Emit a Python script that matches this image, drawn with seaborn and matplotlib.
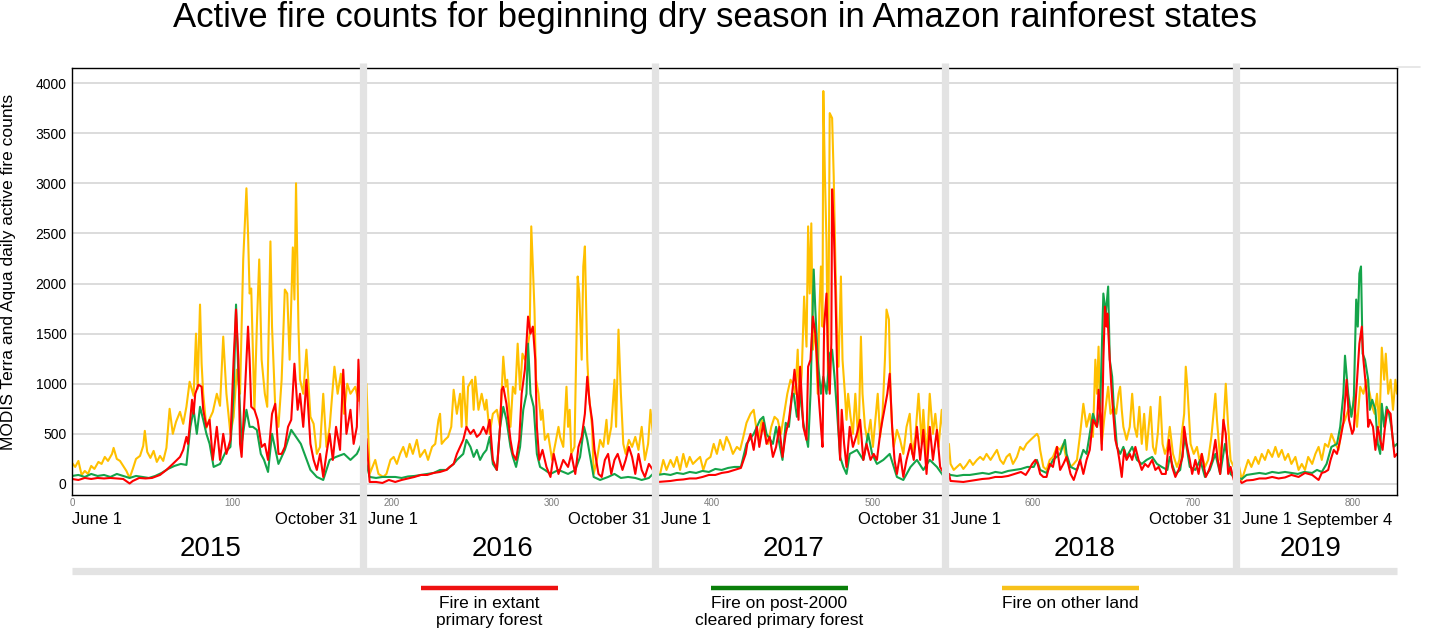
import pandas as pd
import seaborn as sns
import matplotlib.pyplot as plt
from matplotlib.lines import Line2D
from matplotlib.transforms import blended_transform_factory

sns.set_style("white")
plt.rcParams['font.family'] = ['Liberation Sans', 'DejaVu Sans']
plt.rcParams['text.color'] = 'black'
plt.rcParams['ytick.color'] = 'black'

# (day index, daily active fire count)
other_land = [
    # 2015
    (0, 210), (2, 170), (4, 230), (6, 90), (8, 130), (10, 100), (12, 180), (14, 150), (16.5, 220), (18.5, 200),
    (20.5, 270), (22.5, 230), (25, 300), (26, 360), (28, 250), (30, 230), (32, 180), (34, 130), (36, 60), (38, 150),
    (40, 250), (42.5, 280), (44.5, 380), (45.5, 530), (47, 320), (49, 260), (51, 330), (53, 220), (55, 280), (57, 230),
    (59, 360), (61, 750), (63, 500), (65, 620), (67.5, 720), (69.5, 600), (71.5, 770), (73.5, 1020), (76, 880),
    (77.5, 1500), (78.5, 950), (80, 1790), (81, 1200), (82, 900), (84, 560), (86, 650), (88, 720), (90.5, 900),
    (92.5, 780), (94.5, 1470), (96.5, 900), (99, 500), (101, 670), (103, 1140), (105, 900), (107, 2240), (109, 2950),
    (110, 2500), (111, 1900), (112, 1950), (114, 740), (115.5, 1570), (117, 2240), (118.5, 1240), (120.5, 900),
    (122, 770), (124, 2420), (125, 1570), (127, 770), (129, 570), (131, 1040), (133, 1940), (134.5, 1900), (136, 1240),
    (138, 2360), (139, 1840), (140, 3000), (141.5, 1570), (142.5, 1040), (144.5, 900), (146.5, 1340), (149, 670),
    (151, 600), (153, 300), (155, 370), (157, 900), (159, 370), (161, 570), (164, 1170), (166, 900), (168, 1100),
    (170, 700), (172, 1000), (174, 900), (177, 970), (179, 830), (181, 1040),
    # 2016
    (184, 1000), (186, 100), (189.5, 240), (191.5, 100), (194.5, 70), (196.5, 100), (199, 240), (201, 270), (203, 200),
    (205, 300), (207, 370), (209, 270), (211, 400), (213, 300), (215.5, 440), (217.5, 270), (220.5, 340), (222.5, 240),
    (225, 370), (227, 400), (229, 640), (230, 700), (231, 400), (233, 440), (235, 470), (237, 570), (238.5, 940),
    (240.5, 700), (242.5, 900), (243.5, 570), (244.5, 1070), (246.5, 570), (247.5, 970), (250, 1040), (251, 740),
    (252, 1070), (254, 740), (256, 900), (258, 740), (259, 840), (261, 500), (263, 700), (265.5, 740), (267.5, 570),
    (269.5, 1270), (271, 970), (272, 1040), (274, 570), (275.5, 970), (277, 900), (278.5, 1400), (280, 940),
    (281.5, 1300), (283, 1240), (284.5, 1340), (286, 1500), (287, 2570), (288, 2170), (289, 1740), (290, 1040),
    (291.5, 900), (293, 640), (294, 740), (295.5, 440), (297.5, 500), (300, 240), (302, 400), (304, 570), (305, 470),
    (307, 370), (309, 970), (310, 570), (311, 740), (312, 300), (314, 370), (316, 2070), (317, 1900), (318.5, 1240),
    (319.5, 2170), (320.5, 2370), (322, 1240), (323, 900), (325, 570), (326, 100), (328, 240), (330, 440), (332, 370),
    (334, 640), (335, 400), (337, 570), (339, 1040), (340, 570), (341.5, 1540), (343, 900), (344.5, 400), (346, 300),
    (348, 440), (350, 370), (352, 470), (354, 340), (356, 570), (358, 240), (360, 400), (361.5, 740), (363, 500),
    # 2017
    (366, 100), (367.5, 100), (369.5, 240), (371.5, 140), (374, 240), (376, 170), (378, 270), (380, 140), (382, 300),
    (384, 170), (386, 270), (388, 200), (390.5, 240), (392.5, 270), (394.5, 140), (396.5, 240), (399, 270), (401, 400),
    (403, 300), (405, 440), (407, 340), (409, 470), (411, 400), (413, 300), (415.5, 370), (417.5, 340), (419.5, 470),
    (421.5, 610), (424, 700), (426, 740), (427.5, 570), (429, 440), (431, 640), (433, 500), (435, 400), (437, 570),
    (439, 670), (441, 640), (443, 500), (445, 700), (447, 900), (449, 1040), (450.5, 1000), (452, 900), (453.5, 1340),
    (454.5, 770), (456, 1100), (457.5, 1870), (459, 1370), (460, 2570), (461, 1900), (462, 2600), (463, 1340),
    (464.5, 1570), (466, 900), (467, 1700), (468, 2170), (469, 1570), (469.5, 3920), (470.5, 3070), (471.5, 2400),
    (472.5, 940), (473.5, 3700), (475, 3650), (476, 3070), (477, 2240), (478, 1570), (479, 1170), (480.5, 2070),
    (481.5, 1240), (483, 900), (484, 640), (485, 900), (486.5, 670), (488, 500), (489.5, 900), (490.5, 640),
    (491.5, 400), (493, 1470), (494, 900), (495.5, 570), (497, 440), (499, 640), (500.5, 370), (502, 640),
    (503.5, 900), (505, 470), (506.5, 700), (508, 1240), (509, 1740), (510.5, 1640), (511.5, 900), (512.5, 570),
    (513.5, 370), (515.5, 540), (517.5, 440), (519.5, 300), (521.5, 570), (523.5, 700), (525, 300), (527, 470),
    (529, 900), (531, 400), (532, 740), (534, 240), (536, 900), (538, 500), (539.5, 700), (541.5, 370), (543.5, 740),
    (545, 400),
    # 2018
    (548, 400), (549, 200), (551, 140), (553, 170), (555, 200), (557, 150), (559, 190), (561, 240), (563, 190),
    (565.5, 240), (567.5, 270), (569.5, 240), (571.5, 300), (574, 240), (576, 290), (578, 340), (580, 240), (582, 200),
    (584, 270), (586, 300), (588, 200), (590.5, 270), (592.5, 370), (594.5, 340), (596.5, 400), (599, 440), (601, 470),
    (603, 500), (604, 470), (605, 340), (607, 170), (609, 140), (611, 240), (613, 270), (615.5, 370), (617.5, 340),
    (619.5, 400), (621.5, 240), (624, 170), (626, 200), (628, 240), (630, 500), (632, 800), (634, 570), (636, 700),
    (638, 470), (639.5, 1240), (640.5, 900), (641.5, 1370), (642.5, 740), (643.5, 400), (645, 640), (646, 770),
    (647.5, 970), (649, 700), (651, 770), (652.5, 700), (654, 900), (655, 970), (656, 740), (657, 570), (659, 440),
    (661, 570), (662.5, 900), (664, 570), (665.5, 470), (667, 770), (668.5, 400), (670, 700), (671.5, 340), (674, 770),
    (675.5, 370), (677, 300), (678.5, 500), (680, 870), (681.5, 400), (683, 300), (684.5, 370), (686, 570), (688, 300),
    (690.5, 170), (692, 240), (693.5, 500), (695, 700), (696, 1170), (697, 970), (699, 400), (701, 300), (703, 370),
    (704.5, 240), (706, 300), (708, 170), (710, 240), (712, 470), (714.5, 900), (715.5, 640), (717.5, 240),
    (719.5, 570), (721, 1000), (722.5, 570), (724, 240), (726, 170), (727, 150),
    # 2019
    (729, 200), (731, 40), (733, 140), (735, 240), (737, 170), (739.5, 270), (741.5, 200), (743.5, 300), (745.5, 240),
    (747.5, 340), (750, 270), (752, 370), (754, 270), (756, 340), (758, 240), (760, 300), (762, 200), (764.5, 270),
    (766.5, 140), (768.5, 200), (770.5, 140), (772.5, 270), (775, 200), (777, 300), (779, 370), (781, 240), (783, 400),
    (785, 370), (787, 500), (789.5, 400), (791.5, 340), (793.5, 570), (795.5, 640), (797.5, 740), (800, 700),
    (801, 870), (803, 570), (805, 970), (807, 900), (809, 1040), (811, 900), (812.5, 770), (814, 700), (815.5, 900),
    (817, 570), (818.5, 1360), (820, 1040), (821, 1300), (822.5, 900), (824, 1040), (825.5, 740), (827, 1040),
    (828, 900),
]

cleared_forest = [
    # 2015
    (0, 80), (4, 90), (8, 70), (12, 100), (16, 80), (20, 90), (24, 70), (28, 100), (32, 80), (36, 60), (40, 80),
    (44, 70), (48, 60), (52, 80), (56, 110), (60, 150), (64, 180), (68, 200), (71.5, 190), (74, 570), (76, 740),
    (78, 500), (80, 770), (82, 640), (84, 500), (86, 400), (88.5, 170), (92.5, 200), (96, 320), (99, 370), (101, 900),
    (102.5, 1790), (104, 1070), (106, 400), (109, 740), (111, 570), (113, 570), (115.5, 540), (118, 300), (120, 240),
    (122.5, 120), (125, 500), (129, 200), (133, 340), (137, 540), (140, 470), (143, 400), (149, 140), (153, 70),
    (157, 40), (161, 240), (165, 270), (170, 300), (174, 240), (178, 300), (181, 400),
    # 2016
    (184, 200), (186, 70), (190, 60), (194, 70), (198, 70), (202, 70), (206, 60), (210, 75), (214, 80), (218, 90),
    (222, 100), (226, 110), (230, 140), (234, 140), (238.5, 200), (240.5, 240), (244.5, 300), (246.5, 440), (249, 370),
    (251, 270), (253, 340), (255, 240), (257, 300), (259, 340), (261, 470), (263, 200), (265.5, 140), (267.5, 570),
    (269.5, 770), (271.5, 640), (274, 370), (275.5, 270), (277.5, 170), (280, 370), (282, 740), (284, 900),
    (285, 1400), (286.5, 900), (288.5, 770), (290.5, 300), (292.5, 170), (295.5, 140), (299, 100), (304, 140),
    (310, 100), (314.5, 140), (317.5, 270), (320, 570), (322, 440), (326, 70), (330, 40), (335, 70), (339, 100),
    (343, 60), (347.5, 70), (352, 60), (356, 40), (360.5, 60), (363, 100),
    # 2017
    (366, 90), (370, 100), (374, 90), (378, 110), (382, 100), (386, 120), (390, 110), (394, 130), (398, 120),
    (402, 150), (406, 140), (410, 160), (414, 170), (418, 170), (421.5, 400), (426, 500), (430, 640), (432, 670),
    (434, 500), (438, 400), (440, 570), (444, 240), (446, 610), (448, 570), (450, 900), (451, 900), (453, 670),
    (455, 900), (457, 610), (460, 370), (461.5, 900), (463.5, 2140), (464.5, 1740), (466, 1240), (468, 900),
    (469.5, 1070), (471.5, 900), (473.5, 1300), (475, 1340), (476.5, 1070), (478, 740), (480, 270), (482, 170),
    (484, 100), (486, 300), (490.5, 340), (494.5, 240), (497.5, 500), (500, 300), (503, 200), (507, 240), (511, 300),
    (515.5, 70), (519.5, 40), (524, 170), (528, 240), (532, 140), (536, 240), (540.5, 170), (545, 70),
    # 2018
    (548, 100), (549, 90), (553, 80), (557, 90), (561, 90), (565, 100), (569, 110), (573, 100), (577, 120), (581, 110),
    (585, 130), (589, 140), (593, 150), (597, 170), (601, 170), (603, 240), (605, 140), (609, 110), (613, 240),
    (617.5, 300), (620.5, 440), (621.5, 300), (624, 170), (628, 140), (630, 240), (632, 340), (634, 300), (638, 700),
    (640.5, 570), (642.5, 740), (644.5, 1900), (646, 1700), (647.5, 1970), (648.5, 1240), (650, 1070), (651, 770),
    (653, 370), (655, 300), (657, 370), (659, 270), (662.5, 370), (665.5, 240), (668.5, 200), (671.5, 240), (675, 270),
    (678, 200), (681, 170), (684.5, 140), (686, 270), (689.5, 100), (692.5, 140), (695.5, 470), (698.5, 170),
    (702, 140), (705, 240), (708, 70), (711, 140), (714.5, 300), (717.5, 100), (720.5, 400), (724, 100), (726, 70),
    # 2019
    (729, 60), (731, 50), (734, 90), (738, 100), (742, 110), (746, 100), (750, 120), (754, 110), (758, 120),
    (762, 110), (766, 100), (770, 120), (775, 110), (778, 140), (781, 120), (784, 200), (787, 370), (790.5, 400),
    (792.5, 570), (794.5, 900), (795.5, 1280), (797.5, 900), (799.5, 670), (801, 840), (802.5, 1840), (803.5, 1570),
    (804.5, 2100), (805.5, 2170), (806.5, 1300), (808, 1240), (810, 1040), (811, 740), (812.5, 840), (814.5, 740),
    (816, 400), (817.5, 300), (818.5, 800), (820, 570), (821.5, 770), (823, 700), (824.5, 570), (826, 370), (828, 400),
]

extant_forest = [
    # 2015
    (0, 50), (4, 40), (8, 60), (12, 50), (16, 60), (20, 55), (24, 60), (28, 55), (32, 50), (36, 5), (38, 30),
    (42, 60), (46, 55), (50, 60), (55, 90), (59, 140), (63, 200), (67.5, 270), (69.5, 340), (71.5, 470), (72.5, 400),
    (75, 840), (76, 700), (77, 900), (79, 990), (81, 970), (82, 740), (84, 570), (86, 640), (88, 240), (90.5, 570),
    (92.5, 240), (94.5, 500), (96.5, 300), (99, 440), (101, 1240), (102.5, 1740), (104, 1240), (105, 400), (106, 270),
    (108, 900), (110, 1570), (111, 1240), (112, 770), (114, 740), (116, 640), (118.5, 370), (120.5, 400), (122.5, 240),
    (125, 700), (127, 800), (129, 300), (131, 300), (133, 370), (135, 570), (137, 640), (139, 1200), (141, 740),
    (142.5, 900), (144.5, 570), (146.5, 1040), (149, 400), (151, 240), (153, 140), (155, 300), (157, 70), (159, 300),
    (161, 500), (163, 240), (165, 570), (167.5, 340), (169.5, 1140), (171.5, 500), (174, 740), (176, 400), (178, 570),
    (179, 1240), (181, 500),
    # 2016
    (184, 450), (186, 20), (190, 20), (194, 10), (198, 40), (202, 20), (206, 40), (210, 55), (214, 70), (218, 90),
    (222, 90), (226, 110), (230, 120), (234, 140), (236, 170), (238.5, 200), (240.5, 300), (242.5, 370), (244.5, 440),
    (246.5, 570), (249, 500), (251, 540), (253, 470), (255, 500), (257, 570), (259, 500), (261, 640), (263, 240),
    (265.5, 140), (267.5, 570), (268.5, 940), (269.5, 970), (271.5, 800), (274, 440), (275.5, 300), (277.5, 240),
    (279.5, 440), (281, 900), (283, 1140), (285, 1670), (286.5, 1500), (288, 1570), (289.5, 1240), (290.5, 570),
    (292, 240), (294, 340), (296.5, 170), (299, 70), (301, 300), (304, 100), (307, 240), (310, 170), (312, 300),
    (314.5, 100), (316.5, 370), (318.5, 470), (320.5, 700), (322, 1070), (323.5, 800), (325, 640), (326.5, 340),
    (329, 100), (331, 70), (333, 240), (335, 300), (337, 100), (339, 240), (341, 300), (344, 140), (346, 240),
    (348, 370), (350, 270), (352, 100), (354, 300), (356, 140), (358, 70), (360.5, 200), (363, 140),
    # 2017
    (366, 20), (370, 25), (374, 30), (378, 40), (382, 45), (386, 55), (390, 55), (394, 70), (398, 90), (402, 90),
    (406, 110), (410, 120), (414, 140), (418, 160), (421, 300), (422, 400), (424, 500), (426, 340), (428, 570),
    (429.5, 370), (432, 610), (434, 400), (436, 470), (438, 270), (440, 370), (442, 570), (444, 270), (446, 500),
    (448, 640), (450, 900), (451.5, 1140), (453, 900), (454, 640), (455, 1170), (457, 570), (459, 440), (460, 1170),
    (461.5, 1240), (463, 1670), (464.5, 1500), (465.5, 1240), (466.5, 900), (468, 570), (469, 370), (470, 1570),
    (471.5, 1900), (472.5, 1240), (473.5, 900), (474.5, 1400), (475, 2940), (476, 2570), (477, 1970), (478, 1240),
    (479, 570), (480, 240), (481, 740), (482.5, 400), (484, 170), (486, 570), (488, 370), (490.5, 500), (492.5, 640),
    (494.5, 240), (496.5, 400), (499, 240), (501, 300), (503, 240), (505, 500), (506.5, 640), (508, 770), (509.5, 900),
    (511, 1100), (512.5, 570), (514, 240), (515.5, 100), (517.5, 300), (519.5, 70), (521.5, 240), (524, 400),
    (526, 240), (528, 570), (530, 240), (532, 540), (534, 100), (536, 570), (538, 240), (540.5, 540), (542.5, 170),
    (545, 100),
    # 2018
    (548, 100), (549, 30), (553, 25), (557, 20), (561, 30), (565, 40), (569, 50), (573, 55), (577, 70), (581, 70),
    (585, 80), (589, 100), (593, 120), (596, 90), (598, 140), (600, 200), (602, 240), (603.5, 200), (605, 100),
    (607, 70), (609, 70), (611, 200), (613, 170), (615.5, 370), (617.5, 140), (619.5, 200), (621.5, 270), (624, 100),
    (626, 40), (628, 140), (630, 240), (632, 100), (634, 240), (636, 340), (638, 640), (640.5, 570), (641.5, 940),
    (642.5, 700), (643.5, 340), (644.5, 1240), (645.5, 1770), (646.5, 1570), (647, 1700), (648.5, 1240), (649.5, 970),
    (650.5, 740), (652, 440), (653.5, 340), (654.5, 240), (656, 70), (657.5, 340), (659, 240), (661, 300),
    (662.5, 240), (664.5, 370), (666.5, 240), (668.5, 140), (670.5, 200), (672.5, 170), (675, 240), (677, 140),
    (679, 170), (681, 100), (683.5, 100), (685.5, 440), (687.5, 170), (689.5, 70), (691.5, 140), (694, 270),
    (695, 570), (696.5, 400), (698.5, 240), (700, 100), (702, 240), (704, 100), (706, 300), (708.5, 70), (710.5, 140),
    (712.5, 240), (714.5, 440), (716, 240), (717.5, 100), (719.5, 640), (721, 500), (722.5, 100), (724, 170),
    (726, 40), (727, 50),
    # 2019
    (729, 50), (731, 10), (734, 35), (738, 40), (742, 55), (746, 55), (750, 70), (754, 55), (758, 65), (762, 90),
    (766.5, 70), (770.5, 110), (775, 90), (779, 40), (781, 110), (783, 120), (785, 140), (786.5, 240), (788.5, 340),
    (790.5, 300), (792.5, 440), (794.5, 610), (796.5, 1040), (798, 640), (800, 500), (801, 540), (803, 1040),
    (804.5, 1400), (806, 1570), (807, 1240), (808, 1070), (809, 900), (810, 570), (811, 640), (813, 570),
    (814.5, 340), (816, 570), (817.5, 440), (819, 340), (820.5, 570), (822, 740), (824, 700), (825, 500),
    (826.5, 270), (828, 300),
]

years = ['2015', '2016', '2017', '2018', '2019']
year_breaks = [181.6, 364.4, 545.8, 727.6]
season_start = ['June 1'] * 5
season_end = ['October 31', 'October 31', 'October 31', 'October 31', 'September 4']
series_names = ['Fire in extant\nprimary forest', 'Fire on post-2000\ncleared primary forest', 'Fire on other land']
line_colors = ['#ff0000', '#14a44a', '#ffc000']
legend_colors = ['#ee1111', '#0a7f0a', '#f7c11b']

sep_color = '#e3e3e3'
x_max = 828

fig = plt.figure(figsize=(14.3, 6.31), dpi=100)
ax = fig.add_axes([72 / 1430, 1 - 495 / 631, (1397 - 72) / 1430, (495 - 68) / 631])

# draw back to front: other land, cleared forest, extant forest
for data, color in [(other_land, line_colors[2]), (cleared_forest, line_colors[1]), (extant_forest, line_colors[0])]:
    df = pd.DataFrame(data, columns=['day', 'count'])
    sns.lineplot(data=df, x='day', y='count', ax=ax, color=color, linewidth=1.5,
                 estimator=None, sort=False)

ax.set_xlim(0, x_max)
ax.set_ylim(-110, 4150)
ax.set_yticks(range(0, 4001, 500))
ax.set_xticks(range(0, 801, 100))
ax.yaxis.grid(True, color='#d6d6d6', linewidth=1.2)
ax.set_axisbelow(True)
ax.set_xlabel('')
ax.set_ylabel('')
for s in ax.spines.values():
    s.set_color('black')
    s.set_linewidth(1.0)
ax.tick_params(axis='y', length=0, labelsize=10, pad=4, labelcolor='black')
ax.tick_params(axis='x', length=0, labelsize=7, labelcolor='#7a7a7a', pad=2)

# year separators (x in data, y in figure coords)
trans = blended_transform_factory(ax.transData, fig.transFigure)
for xb in year_breaks:
    ax.add_line(Line2D([xb, xb], [1 - 63 / 631, 1 - 570 / 631], transform=trans, color=sep_color,
                       linewidth=5.2, clip_on=False, zorder=10, solid_capstyle='butt'))
ax.add_line(Line2D([0, x_max], [1 - 570.5 / 631, 1 - 570.5 / 631], transform=trans, color=sep_color,
                   linewidth=5.2, clip_on=False, zorder=10, solid_capstyle='butt'))
fig.add_artist(Line2D([1397 / 1430, 1420 / 1430], [1 - 67 / 631, 1 - 67 / 631], color=sep_color, linewidth=1.2))

# season date labels and year labels
bounds = [0] + year_breaks + [x_max]
for i, yr in enumerate(years):
    left, right = bounds[i], bounds[i + 1]
    ax.text(left + (3.5 if i > 0 else 0), 1 - 520 / 631, season_start[i], transform=trans,
            ha='left', va='center', fontsize=12, color='black')
    ax.text(right - 3, 1 - 520 / 631, season_end[i], transform=trans,
            ha='right', va='center', fontsize=12, color='black')
    ax.text((left + right) / 2 - 4, 1 - 549 / 631, yr, transform=trans,
            ha='center', va='center', fontsize=20, color='black')

fig.text(0.5, 1 - 17 / 631, 'Active fire counts for beginning dry season in Amazon rainforest states',
         ha='center', va='center', fontsize=25, color='black')
fig.text(9 / 1430, 1 - 272 / 631, 'MODIS Terra and Aqua daily active fire counts',
         rotation=90, ha='center', va='center', fontsize=12.5, color='black')

# legend
legend_left = [421, 711, 1002]
for name, color, lx in zip(series_names, legend_colors, legend_left):
    fig.add_artist(Line2D([lx / 1430, (lx + 137) / 1430], [1 - 588 / 631, 1 - 588 / 631],
                          color=color, linewidth=3.2, solid_capstyle='butt'))
    fig.text((lx + 68.5) / 1430, 1 - 596 / 631, name, ha='center', va='top',
             fontsize=12.5, linespacing=1.15, color='black')

fig.savefig('out.png', dpi=100)
